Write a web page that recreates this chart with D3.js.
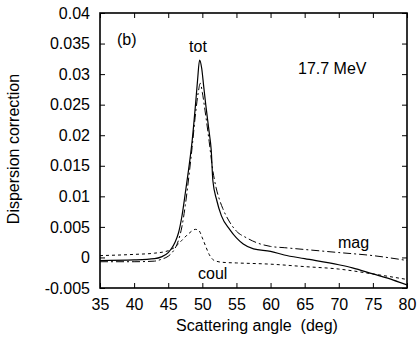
<!DOCTYPE html>
<html><head><meta charset="utf-8">
<script src="https://cdn.jsdelivr.net/npm/d3@7"></script>
<style>body{margin:0;background:#fff}svg{display:block}text{font-family:"Liberation Sans",Arial,sans-serif;fill:#000}</style>
</head><body>
<script>
const xTicks = [35,40,45,50,55,60,65,70,75,80];
const yTicks = [-0.005,0,0.005,0.01,0.015,0.02,0.025,0.03,0.035,0.04];
const yTickLabels = ["-0.005","0","0.005","0.01","0.015","0.02","0.025","0.03","0.035","0.04"];

const totX = [35,40,43,44,45,45.5,46,46.5,47,47.5,48,48.5,49,49.3,49.6,49.9,50.2,50.5,51,51.3,51.55,52.1,52.8,54,55,56,57.5,60,62,65,70,72,75,78,80];
const totY = [-0.0005,-0.0004,-0.0002,0.0001,0.0008,0.0015,0.0025,0.004,0.0067,0.0105,0.0145,0.019,0.025,0.029,0.0323,0.031,0.028,0.025,0.0205,0.0176,0.0125,0.0094,0.0068,0.0046,0.0032,0.0022,0.0014,0.001,0.0004,-0.0002,-0.0012,-0.0017,-0.0027,-0.0037,-0.0045];

const magX = [35,40,43,44,45,45.5,46,46.5,47,47.5,48,48.5,49,49.4,49.7,50,50.4,51,51.5,52,52.5,53,54,55,56.5,58,60,62,65,70,75,80];
const magY = [-0.0007,-0.0007,-0.0006,-0.0003,0.0002,0.0007,0.0015,0.0028,0.005,0.0085,0.013,0.018,0.0235,0.027,0.0285,0.027,0.024,0.019,0.0145,0.0115,0.0095,0.008,0.0058,0.0043,0.0032,0.0024,0.0018,0.0016,0.0013,0.0008,0.0003,-0.0005];

const coulX = [35,40,43,45,46,47,48,49,49.5,50,50.5,51,51.5,52,53,55,60,65,70,75,80];
const coulY = [0.0003,0.0005,0.0007,0.0011,0.0017,0.0028,0.0039,0.0046,0.0044,0.0032,0.0018,0.0005,-0.0003,-0.0006,-0.0008,-0.0009,-0.0011,-0.0015,-0.0019,-0.0027,-0.0036];

const W = 420, H = 339;
const m = {l:100, r:13, t:13, b:51};
const FS = 16;
const svg = d3.select("body").append("svg").attr("width",W).attr("height",H);
const x = d3.scaleLinear().domain([35,80]).range([m.l, W-m.r]);
const y = d3.scaleLinear().domain([-0.005,0.04]).range([H-m.b, m.t]);
const iw = W-m.l-m.r, ih = H-m.t-m.b;

const fmtY = d => yTickLabels[yTicks.findIndex(t => Math.abs(t-d)<1e-9)];
const tl = 5;
svg.append("g").attr("transform",`translate(0,${H-m.b})`)
  .call(d3.axisBottom(x).tickValues(xTicks).tickSize(-tl).tickPadding(11).tickFormat(d3.format("d")))
  .call(g=>g.select(".domain").remove())
  .call(g=>g.selectAll("text").attr("font-size",FS).attr("font-family","Liberation Sans, Arial, sans-serif"));
svg.append("g").attr("transform",`translate(0,${m.t})`)
  .call(d3.axisTop(x).tickValues(xTicks).tickSize(-tl).tickFormat(""))
  .call(g=>g.select(".domain").remove());
svg.append("g").attr("transform",`translate(${m.l},0)`)
  .call(d3.axisLeft(y).tickValues(yTicks).tickSize(-tl).tickPadding(10).tickFormat(fmtY))
  .call(g=>g.select(".domain").remove())
  .call(g=>g.selectAll("text").attr("font-size",FS).attr("font-family","Liberation Sans, Arial, sans-serif"));
svg.append("g").attr("transform",`translate(${W-m.r},0)`)
  .call(d3.axisRight(y).tickValues(yTicks).tickSize(-tl).tickFormat(""))
  .call(g=>g.select(".domain").remove());

svg.append("rect").attr("x",m.l).attr("y",m.t).attr("width",iw).attr("height",ih)
  .attr("fill","none").attr("stroke","#000").attr("stroke-width",1.6);

const line = (xs, ys) => d3.line().curve(d3.curveMonotoneX).x(d=>x(d[0])).y(d=>y(d[1]))(xs.map((v,i)=>[v,ys[i]]));
svg.append("clipPath").attr("id","c").append("rect").attr("x",m.l).attr("y",m.t).attr("width",iw).attr("height",ih);
const pg = svg.append("g").attr("clip-path","url(#c)");
pg.append("path").attr("d",line(coulX,coulY)).attr("fill","none").attr("stroke","#000").attr("stroke-width",1).attr("stroke-dasharray","3,3");
pg.append("path").attr("d",line(magX,magY)).attr("fill","none").attr("stroke","#000").attr("stroke-width",1).attr("stroke-dasharray","8,3,2,3");
pg.append("path").attr("d",line(totX,totY)).attr("fill","none").attr("stroke","#000").attr("stroke-width",1.2);

const lab = (t,xx,yy,anchor="start") => svg.append("text").attr("x",xx).attr("y",yy).attr("font-size",FS).attr("text-anchor",anchor).text(t);
lab("(b)",117,45);
lab("tot",198,52,"middle");
lab("17.7 MeV",298,74);
lab("mag",338,248);
lab("coul",198,279);

svg.append("text").attr("x",257).attr("y",331).attr("font-size",FS).attr("text-anchor","middle").style("white-space","pre").text("Scattering angle  (deg)");
svg.append("text").attr("transform",`translate(19,149) rotate(-90)`).attr("font-size",FS).attr("text-anchor","middle").text("Dispersion correction");
</script>
</body></html>
